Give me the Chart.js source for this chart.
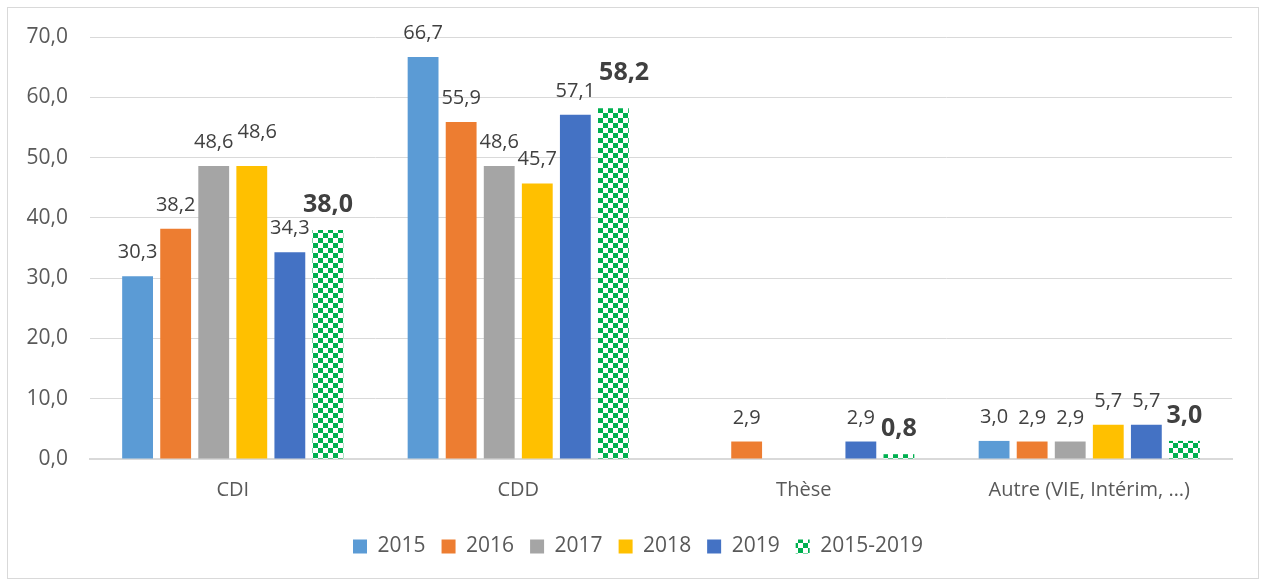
<!DOCTYPE html>
<html>
<head>
<meta charset="utf-8">
<script src="https://cdn.jsdelivr.net/npm/chart.js@4"></script>
<style>
  html, body { margin: 0; padding: 0; background: #fff; }
  #frame {
    position: absolute; left: 7px; top: 7px;
    width: 1250px; height: 570px;
    border: 1px solid #d9d9d9;
  }
  #wrap { position: absolute; left: 0; top: 0; width: 1250px; height: 570px; }
</style>
</head>
<body>
<div id="frame"><div id="wrap"><canvas id="chart"></canvas></div></div>
<script>
// Catégories et valeurs
const categories = ['CDI', 'CDD', 'Thèse', 'Autre (VIE, Intérim, …)'];
const years = ['2015', '2016', '2017', '2018', '2019', '2015-2019'];
const v2015 = [30.3, 66.7, null, 3.0];
const v2016 = [38.2, 55.9, 2.9, 2.9];
const v2017 = [48.6, 48.6, null, 2.9];
const v2018 = [48.6, 45.7, null, 5.7];
const v2019 = [34.3, 57.1, 2.9, 5.7];
const vMoy = [38.0, 58.2, 0.8, 3.0];
const yTicks = [0, 10, 20, 30, 40, 50, 60, 70];

const colors = ['#5B9BD5', '#ED7D31', '#A5A5A5', '#FFC000', '#4472C4'];
const FONT = 'Open Sans';

// Motif damier vert
function checker() {
    const c = document.createElement('canvas');
    c.width = 10; c.height = 10;
    const g = c.getContext('2d');
    g.fillStyle = '#ffffff';
    g.fillRect(0, 0, 10, 10);
    g.fillStyle = '#00B050';
    g.fillRect(0, 0, 5, 5);
    g.fillRect(5, 5, 5, 5);
    return g.createPattern(c, 'repeat');
}

const fmt = v => v.toFixed(1).replace('.', ',');

// Étiquettes de données (avec petit décalage si deux étiquettes se chevauchent)
const labelsPlugin = {
    id: 'barLabels',
    afterDatasetsDraw(chart) {
        const ctx = chart.ctx;
        ctx.save();
        ctx.textAlign = 'center';
        ctx.textBaseline = 'alphabetic';
        const n = chart.data.labels.length;
        for (let j = 0; j < n; j++) {
            let prev = null;
            chart.data.datasets.forEach((ds, i) => {
                const v = ds.data[j];
                if (v === null) return;
                const bar = chart.getDatasetMeta(i).data[j];
                const bold = i === 5;
                ctx.font = bold ? 'bold 25px "' + FONT + '"' : '20px "' + FONT + '"';
                ctx.fillStyle = '#404040';
                const txt = fmt(v);
                const w = ctx.measureText(txt).width;
                const h = bold ? 18 : 14;
                let x = bar.x, y = bar.y - 18;
                if (prev) {
                    const overX = prev.right - (x - w / 2);
                    const overY = (y > prev.top) && (y - h < prev.bottom);
                    if (overX > 0 && overY) {
                        x += Math.min(overX + 4, 18);
                        y -= 10;
                    }
                }
                ctx.fillText(txt, x, y);
                prev = { right: x + w / 2, top: y - h, bottom: y };
            });
        }
        ctx.restore();
    }
};

// Légende un peu décalée, comme dans l'original
const legendShift = {
    id: 'legendShift',
    afterLayout(chart) {
        const l = chart.legend;
        l.left += 9; l.right += 9;
        l.top += 7; l.bottom += 7;
    }
};

const series = [v2015, v2016, v2017, v2018, v2019];
const datasets = series.map((d, i) => ({
    label: years[i],
    data: d,
    backgroundColor: colors[i],
    categoryPercentage: 0.8,
    barPercentage: 0.81
}));
datasets.push({
    label: years[5],
    data: vMoy,
    backgroundColor: checker(),
    categoryPercentage: 0.8,
    barPercentage: 0.81
});

new Chart(document.getElementById('chart'), {
    type: 'bar',
    data: { labels: categories, datasets: datasets },
    plugins: [labelsPlugin, legendShift],
    options: {
        responsive: true,
        maintainAspectRatio: false,
        animation: false,
        events: [],
        layout: { padding: { left: 18, right: 26, top: 29, bottom: 18 } },
        plugins: {
            tooltip: { enabled: false },
            legend: {
                position: 'bottom',
                labels: {
                    boxWidth: 14, boxHeight: 14, padding: 16,
                    color: '#595959',
                    font: { family: FONT, size: 21 }
                }
            }
        },
        scales: {
            x: {
                grid: { display: false },
                border: { color: '#d9d9d9', width: 2 },
                ticks: { color: '#595959', font: { family: FONT, size: 20 }, padding: 11 }
            },
            y: {
                min: 0, max: 70,
                afterBuildTicks: axis => { axis.ticks = yTicks.map(v => ({ value: v })); },
                afterFit: axis => { axis.width = 64; },
                grid: { color: '#d9d9d9', lineWidth: 1, drawTicks: false },
                border: { display: false },
                ticks: {
                    color: '#595959', padding: 22,
                    font: { family: FONT, size: 21, lineHeight: 0.6 },
                    callback: v => fmt(v)
                }
            }
        }
    }
});
</script>
</body>
</html>
